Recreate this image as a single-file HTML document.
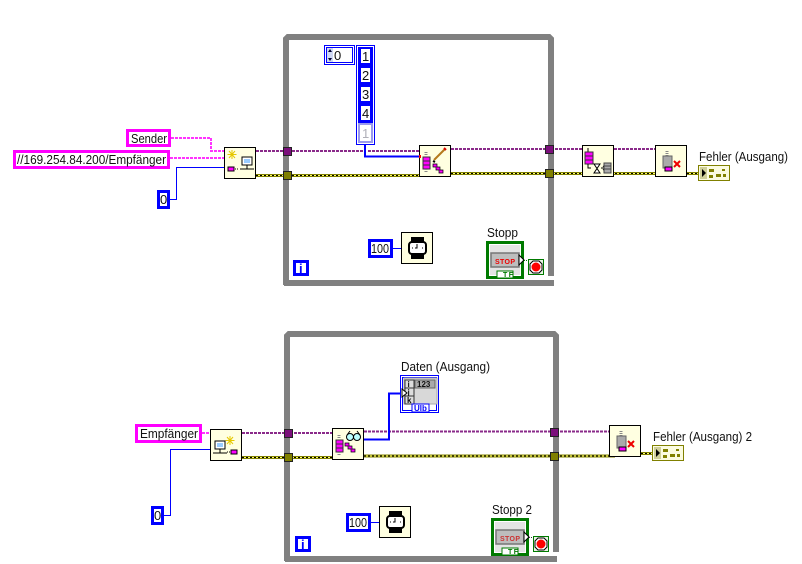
<!DOCTYPE html>
<html><head><meta charset="utf-8"><style>
html,body{margin:0;padding:0;background:#fff;width:802px;height:564px;overflow:hidden}
svg{display:block}
text{font-family:"Liberation Sans",sans-serif;font-size:13px;fill:#111}
.n{fill:#ffffe1;stroke:#000;stroke-width:1}
.loop{fill:none;stroke:#808080;stroke-width:6}
.pk{fill:none;stroke:#ff33ff;stroke-width:2;stroke-dasharray:3 1}
.pu{fill:none;stroke:#8a2a8a;stroke-width:2;stroke-dasharray:3 1}
.ol{fill:none;stroke:#808000;stroke-width:3}
.olb{fill:none;stroke:#ffff66;stroke-width:1}
.old{fill:none;stroke:#000;stroke-width:1;stroke-dasharray:2 2}
.bl{fill:none;stroke:#0000ff;stroke-width:1}
.bl2{fill:none;stroke:#0000ff;stroke-width:2}
.sb{fill:#fff;stroke:#ff00ff;stroke-width:3}
.nb{fill:#fff;stroke:#0000ff;stroke-width:3}
.tp{fill:#7b0f7b;stroke:#222;stroke-width:1}
.to{fill:#808000;stroke:#222;stroke-width:1}
</style></head><body>
<svg width="802" height="564" viewBox="0 0 802 564" xmlns="http://www.w3.org/2000/svg">
<defs>
<g id="stopc">
<rect x="1.5" y="1.5" width="35" height="35" fill="#e4e4e4" stroke="#007a00" stroke-width="3"/>
<rect x="3.5" y="3.5" width="31" height="31" fill="none" stroke="#fff" stroke-width="1"/>
<rect x="5" y="12" width="28" height="14" fill="#bdbdbd" stroke="#777" stroke-width="1.5"/>
<rect x="11" y="30" width="16" height="7" fill="#fff" stroke="#007a00"/>
<path d="M33 14 l5 5 l-5 5z" fill="#fff" stroke="#000"/>
</g>
<g id="stopt">
<rect x=".5" y=".5" width="15" height="15" fill="#e9f4e4" stroke="#007a00"/>
<path d="M5 2h6l3 3v6l-3 3H5l-3-3V5z" fill="#fff" stroke="#000"/>
<circle cx="8" cy="8" r="4.5" fill="#f00"/>
</g>
<g id="watch">
<rect x=".5" y=".5" width="31" height="31" class="n"/>
<rect x="10" y="5" width="13" height="22" fill="#000"/>
<rect x="8" y="10" width="17" height="12" rx="3" fill="#fff" stroke="#000" stroke-width="2"/>
<path d="M16 12v4h-2M11 16h1M21 16h1" stroke="#000" fill="none"/>
</g>
<g id="err">
<rect x=".5" y=".5" width="31" height="15" fill="#fbfbe0" stroke="#808000"/>
<rect x="2" y="2" width="7" height="12" fill="#cfcf9a"/>
<path d="M4 4l4 4l-4 4z" fill="#000"/>
<path d="M11 4h5v3h-5zM18 5h4M24 4h3v2h-3zM11 10h4v3h-4zM18 9h5v3h-5zM25 9h3v3h-3z" fill="#808000" stroke="none"/>
</g>
<g id="close">
<rect x=".5" y=".5" width="31" height="31" class="n"/>
<path d="M12 6v5" stroke="#888" stroke-dasharray="1 1" stroke-width="3"/>
<rect x="8" y="11" width="9" height="12" fill="#aaa" stroke="#666"/>
<rect x="10" y="22" width="7" height="4" fill="#f0f" stroke="#000"/>
<path d="M19 16l6 6m0-6l-6 6" stroke="#e00" stroke-width="2"/>
</g>
<g id="queue">
<path d="M7 7v4" stroke="#888" stroke-dasharray="1 1" stroke-width="3"/>
<rect x="4" y="12" width="7" height="12" fill="#f0f" stroke="#333"/>
<path d="M4 16h7M4 20h7" stroke="#333"/>
<path d="M7 24v3" stroke="#888" stroke-dasharray="1 1" stroke-width="3"/>
</g>
</defs>

<!-- loop 1 -->
<path class="loop" d="M286 285V39l2-2h261l2 2V277"/>
<path class="loop" d="M284 283h270"/>
<rect x="548" y="276" width="7" height="3" fill="#fff"/>
<!-- loop 2 -->
<path class="loop" d="M287 561V336l2-2h265l2 2V553"/>
<path class="loop" d="M285 559h272"/>
<rect x="552" y="552" width="8" height="3" fill="#fff"/>

<!-- top wires -->
<path class="pk" d="M171 138H211V151H224"/>
<path class="pk" d="M170 158H224"/>
<path class="bl" d="M170 199.5H176.5V167.5H224"/>
<path class="pu" d="M256 151H419"/>
<path class="pu" d="M451 149H582M614 149H655"/>
<path class="ol" d="M256 175.500H419M451 173.500H699"/>
<path class="olb" d="M256 175.500H419M451 173.500H699"/>
<path class="old" d="M256 175.500H419M451 173.500H699"/>
<rect x="363" y="149" width="4" height="5" fill="#fff"/>
<path class="bl2" d="M365 145V156.500H419"/>
<rect x="283.500" y="147.500" width="8" height="8" class="tp"/>
<rect x="283.500" y="171.500" width="8" height="8" class="to"/>
<rect x="545.500" y="145.500" width="8" height="8" class="tp"/>
<rect x="545.500" y="169.500" width="8" height="8" class="to"/>

<!-- top constants -->
<rect x="127.500" y="130.500" width="42" height="15" class="sb"/>
<text x="131" y="143" textLength="36" lengthAdjust="spacingAndGlyphs">Sender</text>
<rect x="14.500" y="151.500" width="154" height="16" class="sb"/>
<text x="17" y="164" textLength="149" lengthAdjust="spacingAndGlyphs">//169.254.84.200/Empfänger</text>
<rect x="158.500" y="191.500" width="10" height="16" class="nb"/>
<text x="160" y="204">0</text>

<!-- open node -->
<g transform="translate(224,147)">
<rect x=".5" y=".5" width="31" height="31" class="n"/>
<path d="M8 3v9M3.500 7.500h9M5 4l6 7M11 4l-6 7" stroke="#e6c800"/>
<rect x="18" y="10" width="10" height="8" fill="#fff" stroke="#000"/>
<rect x="20" y="12" width="6" height="4" fill="#9cf"/>
<path d="M16 22h14M23 18v4" stroke="#000"/>
<rect x="4" y="20" width="6" height="4" fill="#f0f" stroke="#000"/>
<path d="M11 22h4" stroke="#000" stroke-dasharray="1 1"/>
</g>

<!-- array -->
<rect x="324.500" y="45.500" width="30" height="19" fill="#fff" stroke="#00f"/>
<rect x="326.500" y="47.500" width="26" height="15" fill="#fff" stroke="#00f"/>
<rect x="327" y="48" width="6" height="14" fill="#cfd8f5"/>
<path d="M330 49l2 3h-4zM330 61l2-3h-4z" fill="#003"/>
<text x="334" y="60">0</text>
<rect x="356.500" y="45.500" width="18" height="99" fill="#fff" stroke="#00f"/>
<rect x="358" y="47" width="15" height="96" fill="#00f"/>
<rect x="361" y="49" width="9" height="14" fill="#fff"/>
<rect x="361" y="68" width="9" height="14" fill="#fff"/>
<rect x="361" y="87" width="9" height="14" fill="#fff"/>
<rect x="361" y="106" width="9" height="14" fill="#fff"/>
<rect x="359" y="124" width="13" height="18" fill="#fff" stroke="#9a9aee" stroke-width="2"/>
<text x="362" y="61">1</text>
<text x="362" y="80">2</text>
<text x="362" y="99">3</text>
<text x="362" y="118">4</text>
<text x="362" y="138" style="fill:#b0b0b8">1</text>

<!-- write node -->
<g transform="translate(419,145)">
<rect x=".5" y=".5" width="31" height="31" class="n"/>
<use href="#queue"/>
<path d="M15 15L26 4" stroke="#b57a1e" stroke-width="2"/><path d="M25 3l2 2" stroke="#d00" stroke-width="2"/>
<path d="M14 16l2 1" stroke="#000" stroke-width="2"/>
<path d="M14 19h4v3h3v3h3v3h-4v-3h-3v-3h-3z" fill="#f0f" stroke="#000" stroke-width=".7"/>
<rect x="0" y="10" width="2" height="3" fill="#f00"/>
</g>

<!-- dequeue/flush node -->
<g transform="translate(582,145)">
<rect x=".5" y=".5" width="31" height="31" class="n"/>
<path d="M6 3v4" stroke="#000"/>
<rect x="3" y="7" width="8" height="12" fill="#f0f" stroke="#333"/><path d="M3 11h8M3 15h8" stroke="#333"/>
<path d="M6 19v4h3" stroke="#000" fill="none"/>
<path d="M12 19h6l-6 9h6z" fill="#fff" stroke="#000"/>
<path d="M19 23h3m-1-2l2 2l-2 2" stroke="#000" fill="none"/>
<rect x="22" y="18" width="7" height="10" fill="#aaa" stroke="#444"/><path d="M22 21h7M22 24h7" stroke="#444"/>
</g>
<use href="#close" x="655" y="145"/>
<text x="699" y="161" textLength="89" lengthAdjust="spacingAndGlyphs">Fehler (Ausgang)</text>
<use href="#err" x="698" y="165"/>

<!-- loop 1 bottom -->
<rect x="369.500" y="240.500" width="22" height="16" class="nb"/>
<text x="371" y="253" textLength="18" lengthAdjust="spacingAndGlyphs">100</text>
<path class="bl" d="M393 248.500H401"/>
<use href="#watch" x="401" y="232"/>
<rect x="294.500" y="261.500" width="13" height="13" class="nb"/>
<text x="299" y="273" style="fill:#00f;font-weight:bold">i</text>
<text x="487" y="237" textLength="31" lengthAdjust="spacingAndGlyphs">Stopp</text>
<use href="#stopc" x="486" y="241"/>
<text x="495" y="264" style="font-size:7px;font-weight:bold;fill:#e00" textLength="20">STOP</text>
<text x="503" y="277" style="font-size:7px;font-weight:bold;fill:#007a00" textLength="10">TF</text>
<path d="M524 260.500H528" stroke="#007a00" stroke-dasharray="1 1"/>
<use href="#stopt" x="528" y="259"/>

<!-- bottom wires -->
<path class="pk" d="M202 433H210"/>
<path class="bl" d="M164 515.500H170.500V449.500H210"/>
<path class="pu" d="M242 433H332M364 431.500H609"/>
<path class="ol" d="M242 457.500H332M364 456H615M641 453.500H652"/>
<path class="olb" d="M242 457.500H332M364 456H615M641 453.500H652"/>
<path class="old" d="M242 457.500H332M364 456H615M641 453.500H652"/>
<path class="bl2" d="M364 439.500H389V393.500H401"/>
<rect x="284.500" y="429.500" width="8" height="8" class="tp"/>
<rect x="284.500" y="453.500" width="8" height="8" class="to"/>
<rect x="550.500" y="428.500" width="8" height="8" class="tp"/>
<rect x="550.500" y="452.500" width="8" height="8" class="to"/>

<rect x="136.500" y="425.500" width="64" height="16" class="sb"/>
<text x="140" y="438" textLength="58" lengthAdjust="spacingAndGlyphs">Empfänger</text>
<rect x="152.500" y="507.500" width="10" height="16" class="nb"/>
<text x="154" y="520">0</text>

<g transform="translate(210,429)">
<rect x=".5" y=".5" width="31" height="31" class="n"/>
<path d="M20 7v9M15.500 11.500h9M17 8l6 7M23 8l-6 7" stroke="#e6c800"/>
<rect x="5" y="12" width="10" height="8" fill="#fff" stroke="#000"/>
<rect x="7" y="14" width="6" height="4" fill="#9cf"/>
<path d="M3 24h14M10 20v4" stroke="#000"/>
<rect x="21" y="21" width="6" height="4" fill="#f0f" stroke="#000"/>
<path d="M17 23h4" stroke="#000" stroke-dasharray="1 1"/>
</g>

<!-- read node -->
<g transform="translate(332,428)">
<rect x=".5" y=".5" width="31" height="31" class="n"/>
<use href="#queue" y="0"/>
<circle cx="18" cy="9" r="3.500" fill="#bff" stroke="#000"/><circle cx="25" cy="9" r="3.500" fill="#bff" stroke="#000"/>
<path d="M21 9h1M15 7l3-4M28 7l-3-4" stroke="#000" fill="none"/>
<path d="M13 15h4v3h3v3h3v3h-4v-3h-3v-3h-3z" fill="#f0f" stroke="#000" stroke-width=".7"/>
</g>

<!-- data indicator -->
<text x="401" y="371" textLength="89" lengthAdjust="spacingAndGlyphs">Daten (Ausgang)</text>
<rect x="400.500" y="375.500" width="38" height="37" fill="#fff" stroke="#00f"/>
<rect x="402.500" y="377.500" width="34" height="33" fill="#fff" stroke="#00f"/>
<rect x="404" y="378" width="33" height="26" fill="#d8d8d8" stroke="#aaa"/>
<rect x="405" y="380" width="9" height="8" fill="#ddd" stroke="#333"/>
<rect x="405" y="388" width="9" height="8" fill="#ddd" stroke="#333"/>
<rect x="405" y="396" width="9" height="8" fill="#ddd" stroke="#333"/>
<text x="407.500" y="387" style="font-size:8px;font-weight:bold">i</text>
<text x="407.500" y="395" style="font-size:8px;font-weight:bold">j</text>
<text x="407" y="403" style="font-size:8px;font-weight:bold">k</text>
<rect x="415" y="380" width="20" height="8" fill="#aaa" stroke="#666"/>
<text x="417" y="387" style="font-size:8px;font-weight:bold">123</text>
<rect x="412" y="404" width="17" height="8" fill="#fff" stroke="#00f"/>
<text x="414" y="411" style="font-size:8px;font-weight:bold;fill:#00f">Ulb</text>
<path d="M402 389l5 4l-5 4z" fill="#fff" stroke="#000"/>

<!-- right -->
<use href="#close" x="609" y="425"/>
<text x="653" y="441" textLength="99" lengthAdjust="spacingAndGlyphs">Fehler (Ausgang) 2</text>
<use href="#err" x="652" y="445"/>

<!-- loop 2 bottom -->
<rect x="347.500" y="514.500" width="22" height="16" class="nb"/>
<text x="349" y="527" textLength="18" lengthAdjust="spacingAndGlyphs">100</text>
<path class="bl" d="M371 522.500H379"/>
<use href="#watch" x="379" y="506"/>
<rect x="296.500" y="537.500" width="13" height="13" class="nb"/>
<text x="301" y="549" style="fill:#00f;font-weight:bold">i</text>
<text x="492" y="514" textLength="40" lengthAdjust="spacingAndGlyphs">Stopp 2</text>
<use href="#stopc" x="491" y="518"/>
<text x="500" y="541" style="font-size:7px;font-weight:bold;fill:#c33" textLength="20">STOP</text>
<text x="508" y="554" style="font-size:7px;font-weight:bold;fill:#007a00" textLength="10">TF</text>
<path d="M529 537.500H533" stroke="#333" stroke-dasharray="1 1"/>
<use href="#stopt" x="533" y="536"/>
</svg>
</body></html>
